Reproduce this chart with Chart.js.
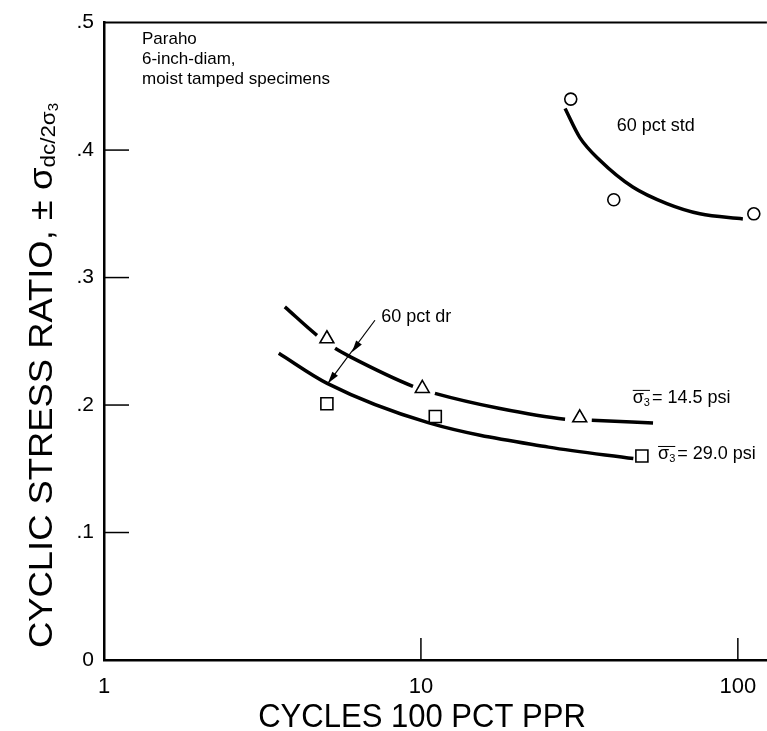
<!DOCTYPE html>
<html>
<head>
<meta charset="utf-8">
<script src="https://cdn.jsdelivr.net/npm/chart.js@4.4.1/dist/chart.umd.min.js"></script>
<style>
  html, body { margin: 0; padding: 0; background: #fff; overflow: hidden; }
  #wrap { width: 767px; height: 731px; overflow: hidden; }
</style>
</head>
<body>
<div id="wrap"><canvas id="stressChart" width="777" height="731"></canvas></div>
<script>
// --- data (cycles, stress ratio)
var stdCycles = [29.7, 40.6, 112.3];
var stdRatio = [0.44, 0.361, 0.35];
var psi145Cycles = [5.05, 10.1, 31.7];
var psi145Ratio = [0.252, 0.213, 0.190];
var psi290Cycles = [5.05, 11.1, 49.8];
var psi290Ratio = [0.201, 0.191, 0.160];

// hand-drawn fitted curves
var stdCurveCycles = [28.5, 31.7, 36.7, 46.6, 59.7, 75.9, 103.7];
var stdCurveRatio = [0.4326, 0.410, 0.392, 0.371, 0.358, 0.350, 0.346];
var psi145CurveCycles = [3.72, 4.70, 5.36, 5.97, 9.44, 11.07, 17.6, 28.5, 34.6, 54];
var psi145CurveRatio = [0.277, 0.2547, 0.2445, 0.238, 0.2147, 0.2092, 0.1975, 0.1889, 0.188, 0.186];
var psi145CurveBreaks = [1, 4, 7];   // curve is broken after these points (around the triangles)
var psi290CurveCycles = [3.56, 5.06, 10.6, 25.3, 46.8];
var psi290CurveRatio = [0.2406, 0.217, 0.186, 0.167, 0.158];

// axes
var xTickValues = [1, 10, 100];
var yTickValues = [0, 0.1, 0.2, 0.3, 0.4, 0.5];
var yTickLabels = ['0', '.1', '.2', '.3', '.4', '.5'];

var FONT = '"Liberation Sans", Arial, Helvetica, sans-serif';

function pairs(xs, ys) {
    return xs.map(function (x, i) { return { x: x, y: ys[i] }; });
}

// annotations, overlines, titles, inward ticks
var decorPlugin = {
    id: 'decor',
    afterDraw: function (chart) {
        var ctx = chart.ctx;
        var xs = chart.scales.x, ys = chart.scales.y;
        var a = chart.chartArea;
        var px = function (v) { return xs.getPixelForValue(v); };
        var py = function (v) { return ys.getPixelForValue(v); };

        ctx.save();
        ctx.strokeStyle = '#000';
        ctx.fillStyle = '#000';

        // top frame line
        ctx.lineWidth = 2;
        ctx.beginPath();
        ctx.moveTo(a.left, a.top);
        ctx.lineTo(a.right, a.top);
        ctx.stroke();

        // inward tick marks
        ctx.lineWidth = 1.5;
        yTickValues.slice(1, -1).forEach(function (v) {
            ctx.beginPath();
            ctx.moveTo(a.left, py(v));
            ctx.lineTo(a.left + 25, py(v));
            ctx.stroke();
        });
        xTickValues.slice(1).forEach(function (v) {
            ctx.beginPath();
            ctx.moveTo(px(v), a.bottom);
            ctx.lineTo(px(v), a.bottom - 22);
            ctx.stroke();
        });

        // specimen note
        ctx.font = '17px ' + FONT;
        ctx.textAlign = 'left';
        ctx.textBaseline = 'alphabetic';
        ctx.fillText('Paraho', 142, 44);
        ctx.fillText('6-inch-diam,', 142, 64);
        ctx.fillText('moist tamped specimens', 142, 84);

        // curve labels
        ctx.font = '18px ' + FONT;
        ctx.textBaseline = 'middle';
        ctx.fillText('60 pct std', px(41.5), py(0.419));
        ctx.fillText('60 pct dr', px(7.5), py(0.269));

        function sigmaLabel(text, x, y) {
            ctx.font = '18px ' + FONT;
            ctx.textBaseline = 'alphabetic';
            var w1 = ctx.measureText('σ').width;
            ctx.fillText('σ', x, y);
            ctx.font = '11px ' + FONT;
            var w2 = ctx.measureText('3').width;
            ctx.fillText('3', x + w1, y + 3);
            ctx.lineWidth = 1;
            ctx.beginPath();
            ctx.moveTo(x, y - 13);
            ctx.lineTo(x + w1 + w2, y - 13);
            ctx.stroke();
            ctx.font = '18px ' + FONT;
            ctx.fillText(text, x + w1 + w2 + 2, y);
        }
        sigmaLabel('= 14.5 psi', px(46.6), py(0.206) + 6);
        sigmaLabel('= 29.0 psi', px(56), py(0.162) + 6);

        // "60 pct dr" arrow with two heads
        var p0 = { x: px(7.16), y: py(0.2665) };
        var p1 = { x: px(6.06), y: py(0.2414) };
        var p2 = { x: px(5.09), y: py(0.217) };
        ctx.lineWidth = 1.2;
        ctx.beginPath();
        ctx.moveTo(p0.x, p0.y);
        ctx.lineTo(p2.x, p2.y);
        ctx.stroke();
        function head(p) {
            var ang = Math.atan2(p.y - p0.y, p.x - p0.x);
            ctx.beginPath();
            ctx.moveTo(p.x, p.y);
            ctx.lineTo(p.x - 12 * Math.cos(ang) + 3.5 * Math.sin(ang), p.y - 12 * Math.sin(ang) - 3.5 * Math.cos(ang));
            ctx.lineTo(p.x - 12 * Math.cos(ang) - 3.5 * Math.sin(ang), p.y - 12 * Math.sin(ang) + 3.5 * Math.cos(ang));
            ctx.closePath();
            ctx.fill();
        }
        head(p1);
        head(p2);

        // x title
        ctx.save();
        ctx.translate(422, 727);
        ctx.scale(0.94, 1);
        ctx.font = '33px ' + FONT;
        ctx.textAlign = 'center';
        ctx.textBaseline = 'alphabetic';
        ctx.fillText('CYCLES 100 PCT PPR', 0, 0);
        ctx.restore();

        // y title (rotated), runs from the bottom (y = 648) upwards
        var main = 'CYCLIC STRESS RATIO, \u00b1 \u03c3';
        ctx.save();
        ctx.translate(52, 648);
        ctx.rotate(-Math.PI / 2);
        ctx.scale(1.07, 1);
        ctx.textAlign = 'left';
        ctx.textBaseline = 'alphabetic';
        ctx.font = '34px ' + FONT;
        ctx.fillText(main, 0, 0);
        var off = ctx.measureText(main).width;
        ctx.font = '21px ' + FONT;
        ctx.fillText('dc/2\u03c3', off, 3);
        off += ctx.measureText('dc/2\u03c3').width;
        ctx.font = '14px ' + FONT;
        ctx.fillText('3', off, 6);
        ctx.restore();

        ctx.restore();
    }
};

function markerSet(xs, ys, style, r) {
    return {
        type: 'scatter',
        data: pairs(xs, ys),
        pointStyle: style,
        pointRadius: r,
        pointHoverRadius: r,
        pointBorderWidth: 1.6,
        pointBorderColor: '#000',
        pointBackgroundColor: '#fff',
        showLine: false,
        order: 0
    };
}

function curveSet(xs, ys, breaks) {
    return {
        type: 'line',
        data: pairs(xs, ys),
        borderColor: '#000',
        borderWidth: 3.5,
        pointRadius: 0,
        fill: false,
        cubicInterpolationMode: 'monotone',
        order: 1,
        segment: {
            borderColor: function (c) {
                return breaks && breaks.indexOf(c.p0DataIndex) >= 0 ? 'rgba(0,0,0,0)' : '#000';
            }
        }
    };
}

new Chart(document.getElementById('stressChart'), {
    data: {
        datasets: [
            curveSet(stdCurveCycles, stdCurveRatio),
            curveSet(psi145CurveCycles, psi145CurveRatio, psi145CurveBreaks),
            curveSet(psi290CurveCycles, psi290CurveRatio),
            markerSet(stdCycles, stdRatio, 'circle', 6),
            markerSet(psi145Cycles, psi145Ratio, 'triangle', 8),
            markerSet(psi290Cycles, psi290Ratio, 'rect', 8.5)
        ]
    },
    options: {
        responsive: false,
        animation: false,
        layout: { padding: { top: 22, right: 0, left: 0, bottom: 0 } },
        plugins: {
            legend: { display: false },
            tooltip: { enabled: false }
        },
        scales: {
            x: {
                type: 'logarithmic',
                min: 1,
                max: 123.5,
                afterBuildTicks: function (s) {
                    s.ticks = xTickValues.map(function (v) { return { value: v }; });
                },
                afterFit: function (s) { s.height = 71; },
                grid: { display: false, drawTicks: false },
                border: { display: true, color: '#000', width: 2.5 },
                ticks: {
                    color: '#000',
                    padding: 14,
                    maxRotation: 0,
                    autoSkip: false,
                    font: { family: FONT, size: 22 },
                    callback: function (v) { return String(v); }
                }
            },
            y: {
                type: 'linear',
                min: 0,
                max: 0.5,
                afterBuildTicks: function (s) {
                    s.ticks = yTickValues.map(function (v) { return { value: v }; });
                },
                afterFit: function (s) { s.width = 104; },
                grid: { display: false, drawTicks: false },
                border: { display: true, color: '#000', width: 2.5 },
                ticks: {
                    color: '#000',
                    padding: 10,
                    autoSkip: false,
                    font: { family: FONT, size: 21 },
                    callback: function (v) {
                        var i = yTickValues.indexOf(v);
                        return i >= 0 ? yTickLabels[i] : '';
                    }
                }
            }
        }
    },
    plugins: [decorPlugin]
});
</script>
</body>
</html>
